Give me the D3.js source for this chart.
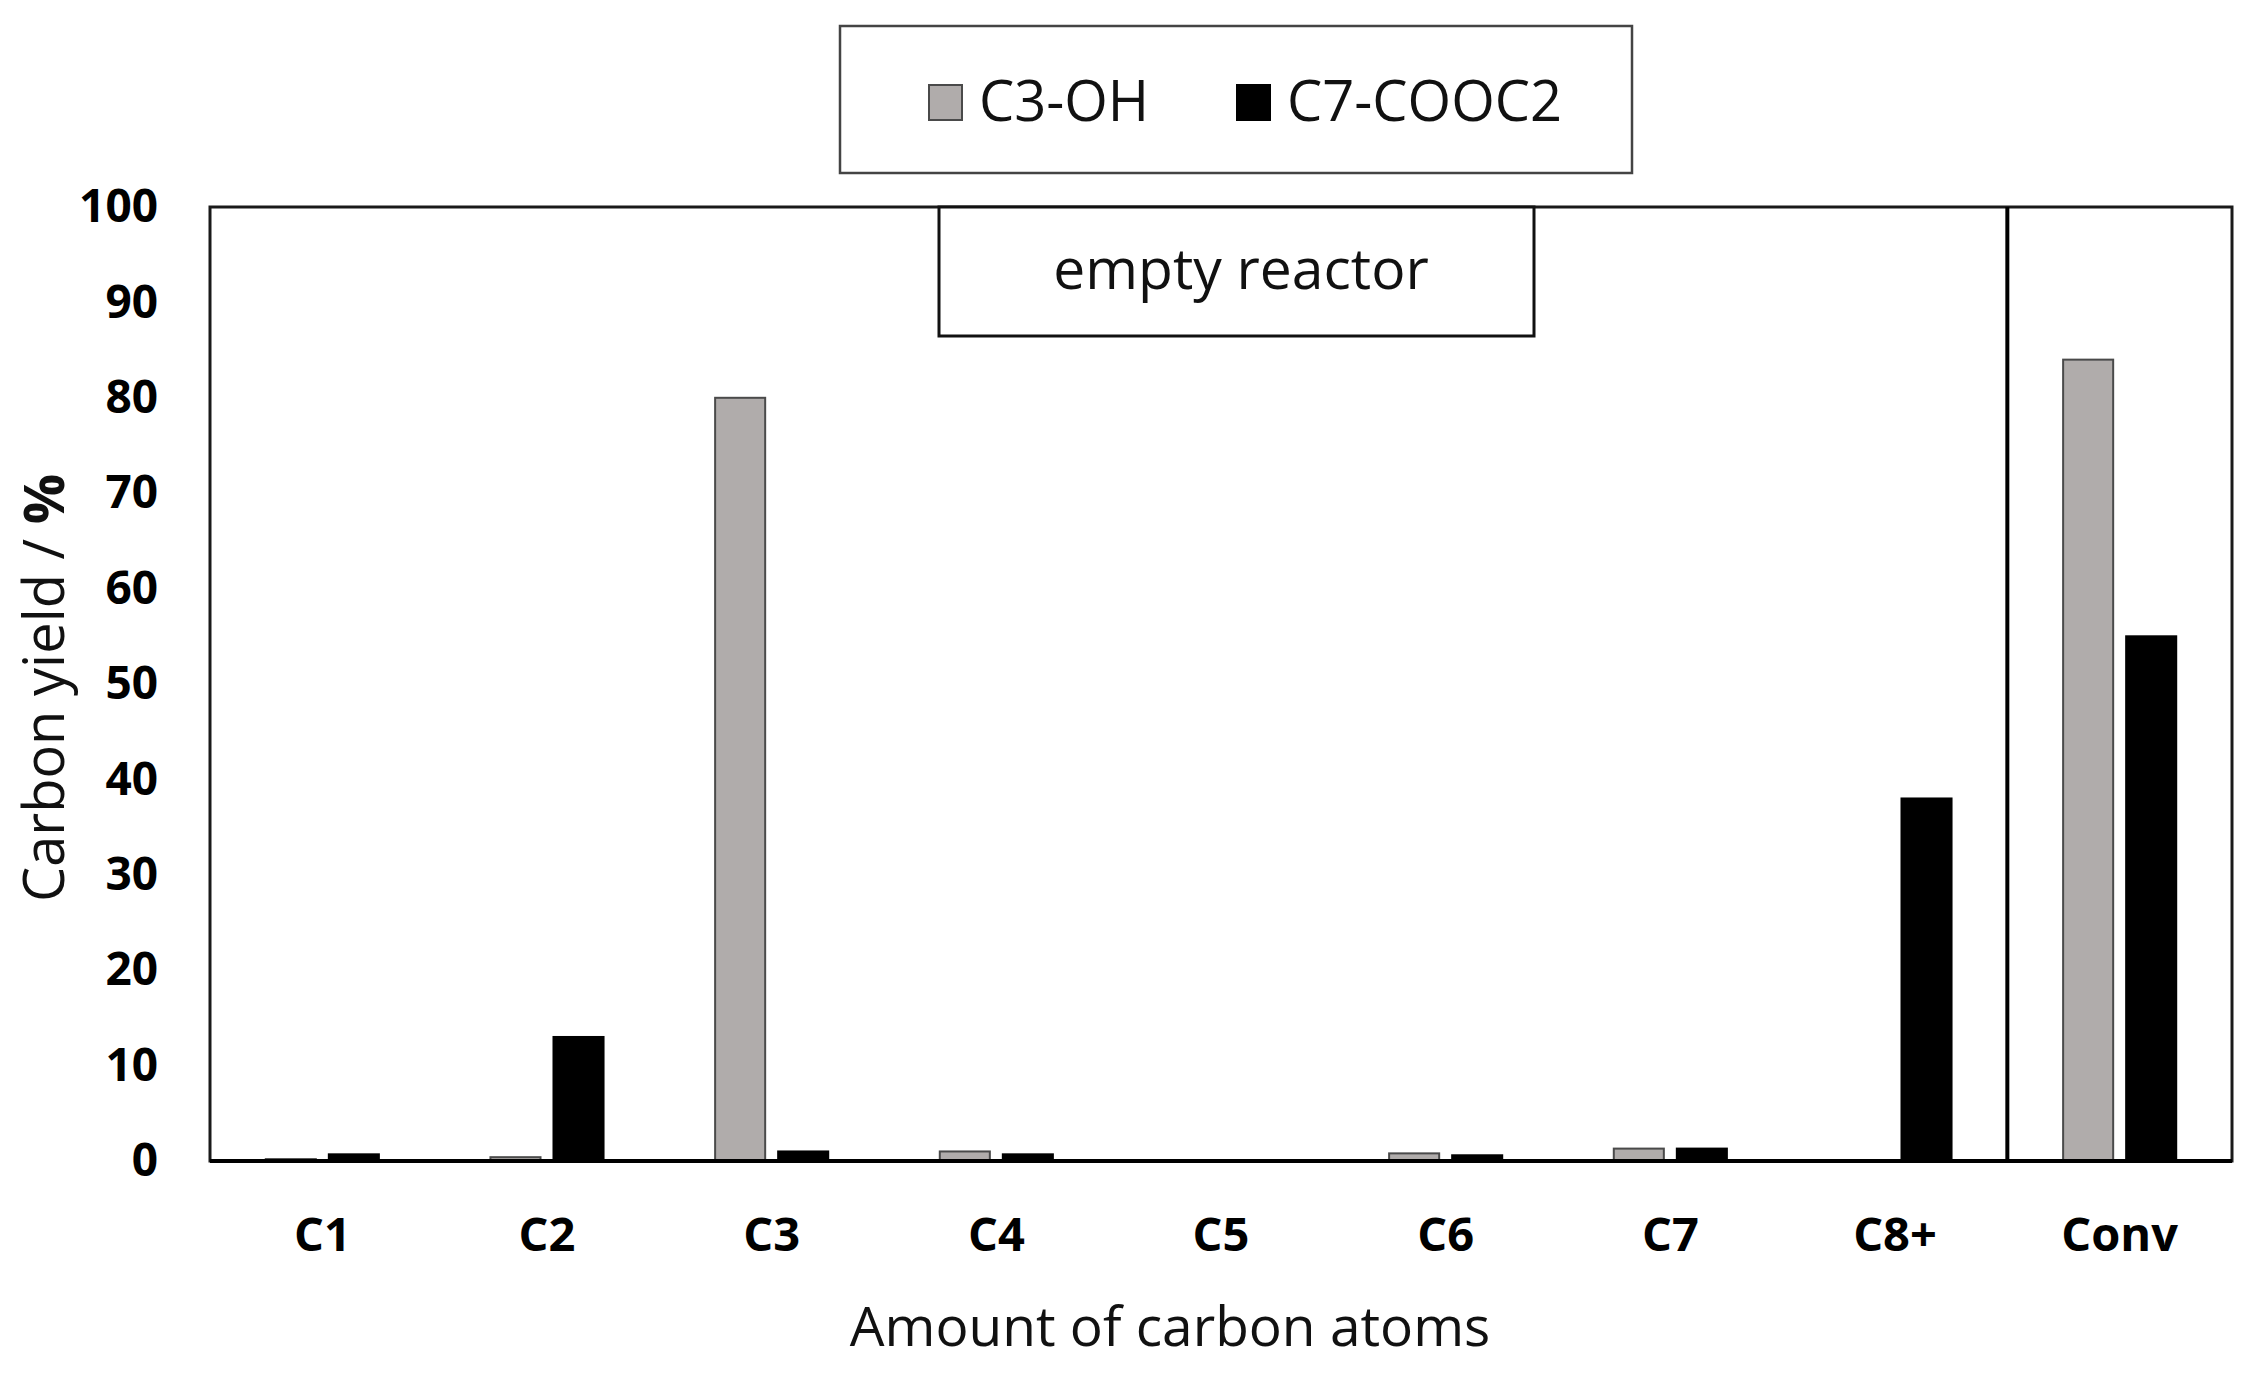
<!DOCTYPE html>
<html><head><meta charset="utf-8">
<script src="https://cdn.jsdelivr.net/npm/d3@7"></script>
<style>body{margin:0;background:#fff;} svg{display:block;}</style>
</head><body>
<script>
const categories = ["C1","C2","C3","C4","C5","C6","C7","C8+","Conv"];
const seriesNames = ["C3-OH","C7-COOC2"];
const c3oh = [0.2, 0.4, 80, 1.0, 0, 0.8, 1.3, 0, 84];
const c7cooc2 = [0.7, 13, 1.0, 0.7, 0, 0.6, 1.3, 38, 55];
const yTicks = [0,10,20,30,40,50,60,70,80,90,100];
const colors = ["#b0acab", "#000000"];
const strokes = ["#4a4a4a", "#000000"];

const W = 2259, H = 1378;
const m = {left:210, right:2232, top:207, bottom:1161};
const font = "'Open Sans', 'DejaVu Sans', sans-serif";

const svg = d3.select("body").append("svg").attr("width", W).attr("height", H);

const x0 = d3.scaleBand().domain(categories).range([m.left, m.right]).padding(0);
const x1 = d3.scaleBand().domain(seriesNames).range([0, x0.bandwidth()]).paddingInner(0.206).paddingOuter(0.885);
const y = d3.scaleLinear().domain([0,100]).range([m.bottom, m.top]);

const data = categories.map((c,i)=>({cat:c, vals:[c3oh[i], c7cooc2[i]]}));

// bars
const g = svg.append("g");
data.forEach(d=>{
  seriesNames.forEach((s,j)=>{
    const v = d.vals[j];
    if (v <= 0) return;
    g.append("rect")
      .attr("x", x0(d.cat) + x1(s))
      .attr("y", y(v))
      .attr("width", x1.bandwidth())
      .attr("height", y(0) - y(v))
      .attr("fill", colors[j])
      .attr("stroke", strokes[j])
      .attr("stroke-width", 2);
  });
});

// frame
svg.append("rect").attr("x", m.left).attr("y", m.top).attr("width", m.right-m.left).attr("height", m.bottom-m.top)
  .attr("fill","none").attr("stroke","#1a1a1a").attr("stroke-width",3);
// divider before Conv
svg.append("line").attr("x1", x0("Conv")).attr("x2", x0("Conv")).attr("y1", m.top).attr("y2", m.bottom)
  .attr("stroke","#000").attr("stroke-width",4);
// baseline
svg.append("line").attr("x1", m.left).attr("x2", m.right).attr("y1", y(0)).attr("y2", y(0))
  .attr("stroke","#000").attr("stroke-width",4);

// y axis
const yAxis = d3.axisLeft(y).tickValues(yTicks).tickSize(0).tickPadding(52);
const ya = svg.append("g").attr("transform", `translate(${m.left},0)`).call(yAxis);
ya.select(".domain").remove();
ya.selectAll("text").attr("font-family", font).attr("font-weight", "bold").attr("font-size", 46).attr("fill","#000");

// x axis
const xAxis = d3.axisBottom(x0).tickSize(0).tickPadding(57);
const xa = svg.append("g").attr("transform", `translate(0,${m.bottom})`).call(xAxis);
xa.select(".domain").remove();
xa.selectAll("text").attr("font-family", font).attr("font-weight", "bold").attr("font-size", 47).attr("fill","#000");

// axis titles
svg.append("text").attr("x", 1170).attr("y", 1346).attr("text-anchor","middle")
  .attr("font-family", font).attr("font-size", 55).attr("fill","#111").text("Amount of carbon atoms");
const yt = svg.append("text").attr("transform", `translate(64,${688}) rotate(-90)`).attr("text-anchor","middle")
  .attr("font-family", font).attr("font-size", 56).attr("fill","#111");
yt.append("tspan").text("Carbon yield / ");
yt.append("tspan").attr("font-weight","bold").text("%");

// empty reactor box
svg.append("rect").attr("x", 939).attr("y", m.top).attr("width", 595).attr("height", 129)
  .attr("fill","#fff").attr("stroke","#111").attr("stroke-width",3);
svg.append("text").attr("x", 1241).attr("y", 289).attr("text-anchor","middle")
  .attr("font-family", font).attr("font-size", 57).attr("fill","#111").text("empty reactor");

// legend
svg.append("rect").attr("x", 840).attr("y", 26).attr("width", 792).attr("height", 147)
  .attr("fill","#fff").attr("stroke","#444").attr("stroke-width",2.5);
const legX = [929, 1237];
seriesNames.forEach((s,j)=>{
  svg.append("rect").attr("x", legX[j]).attr("y", 85).attr("width", 33).attr("height", 35)
    .attr("fill", colors[j]).attr("stroke", strokes[j]).attr("stroke-width", 2);
  svg.append("text").attr("x", legX[j] + 50).attr("y", 121)
    .attr("font-family", font).attr("font-size", 56).attr("fill","#111").text(s);
});
</script>
</body></html>
